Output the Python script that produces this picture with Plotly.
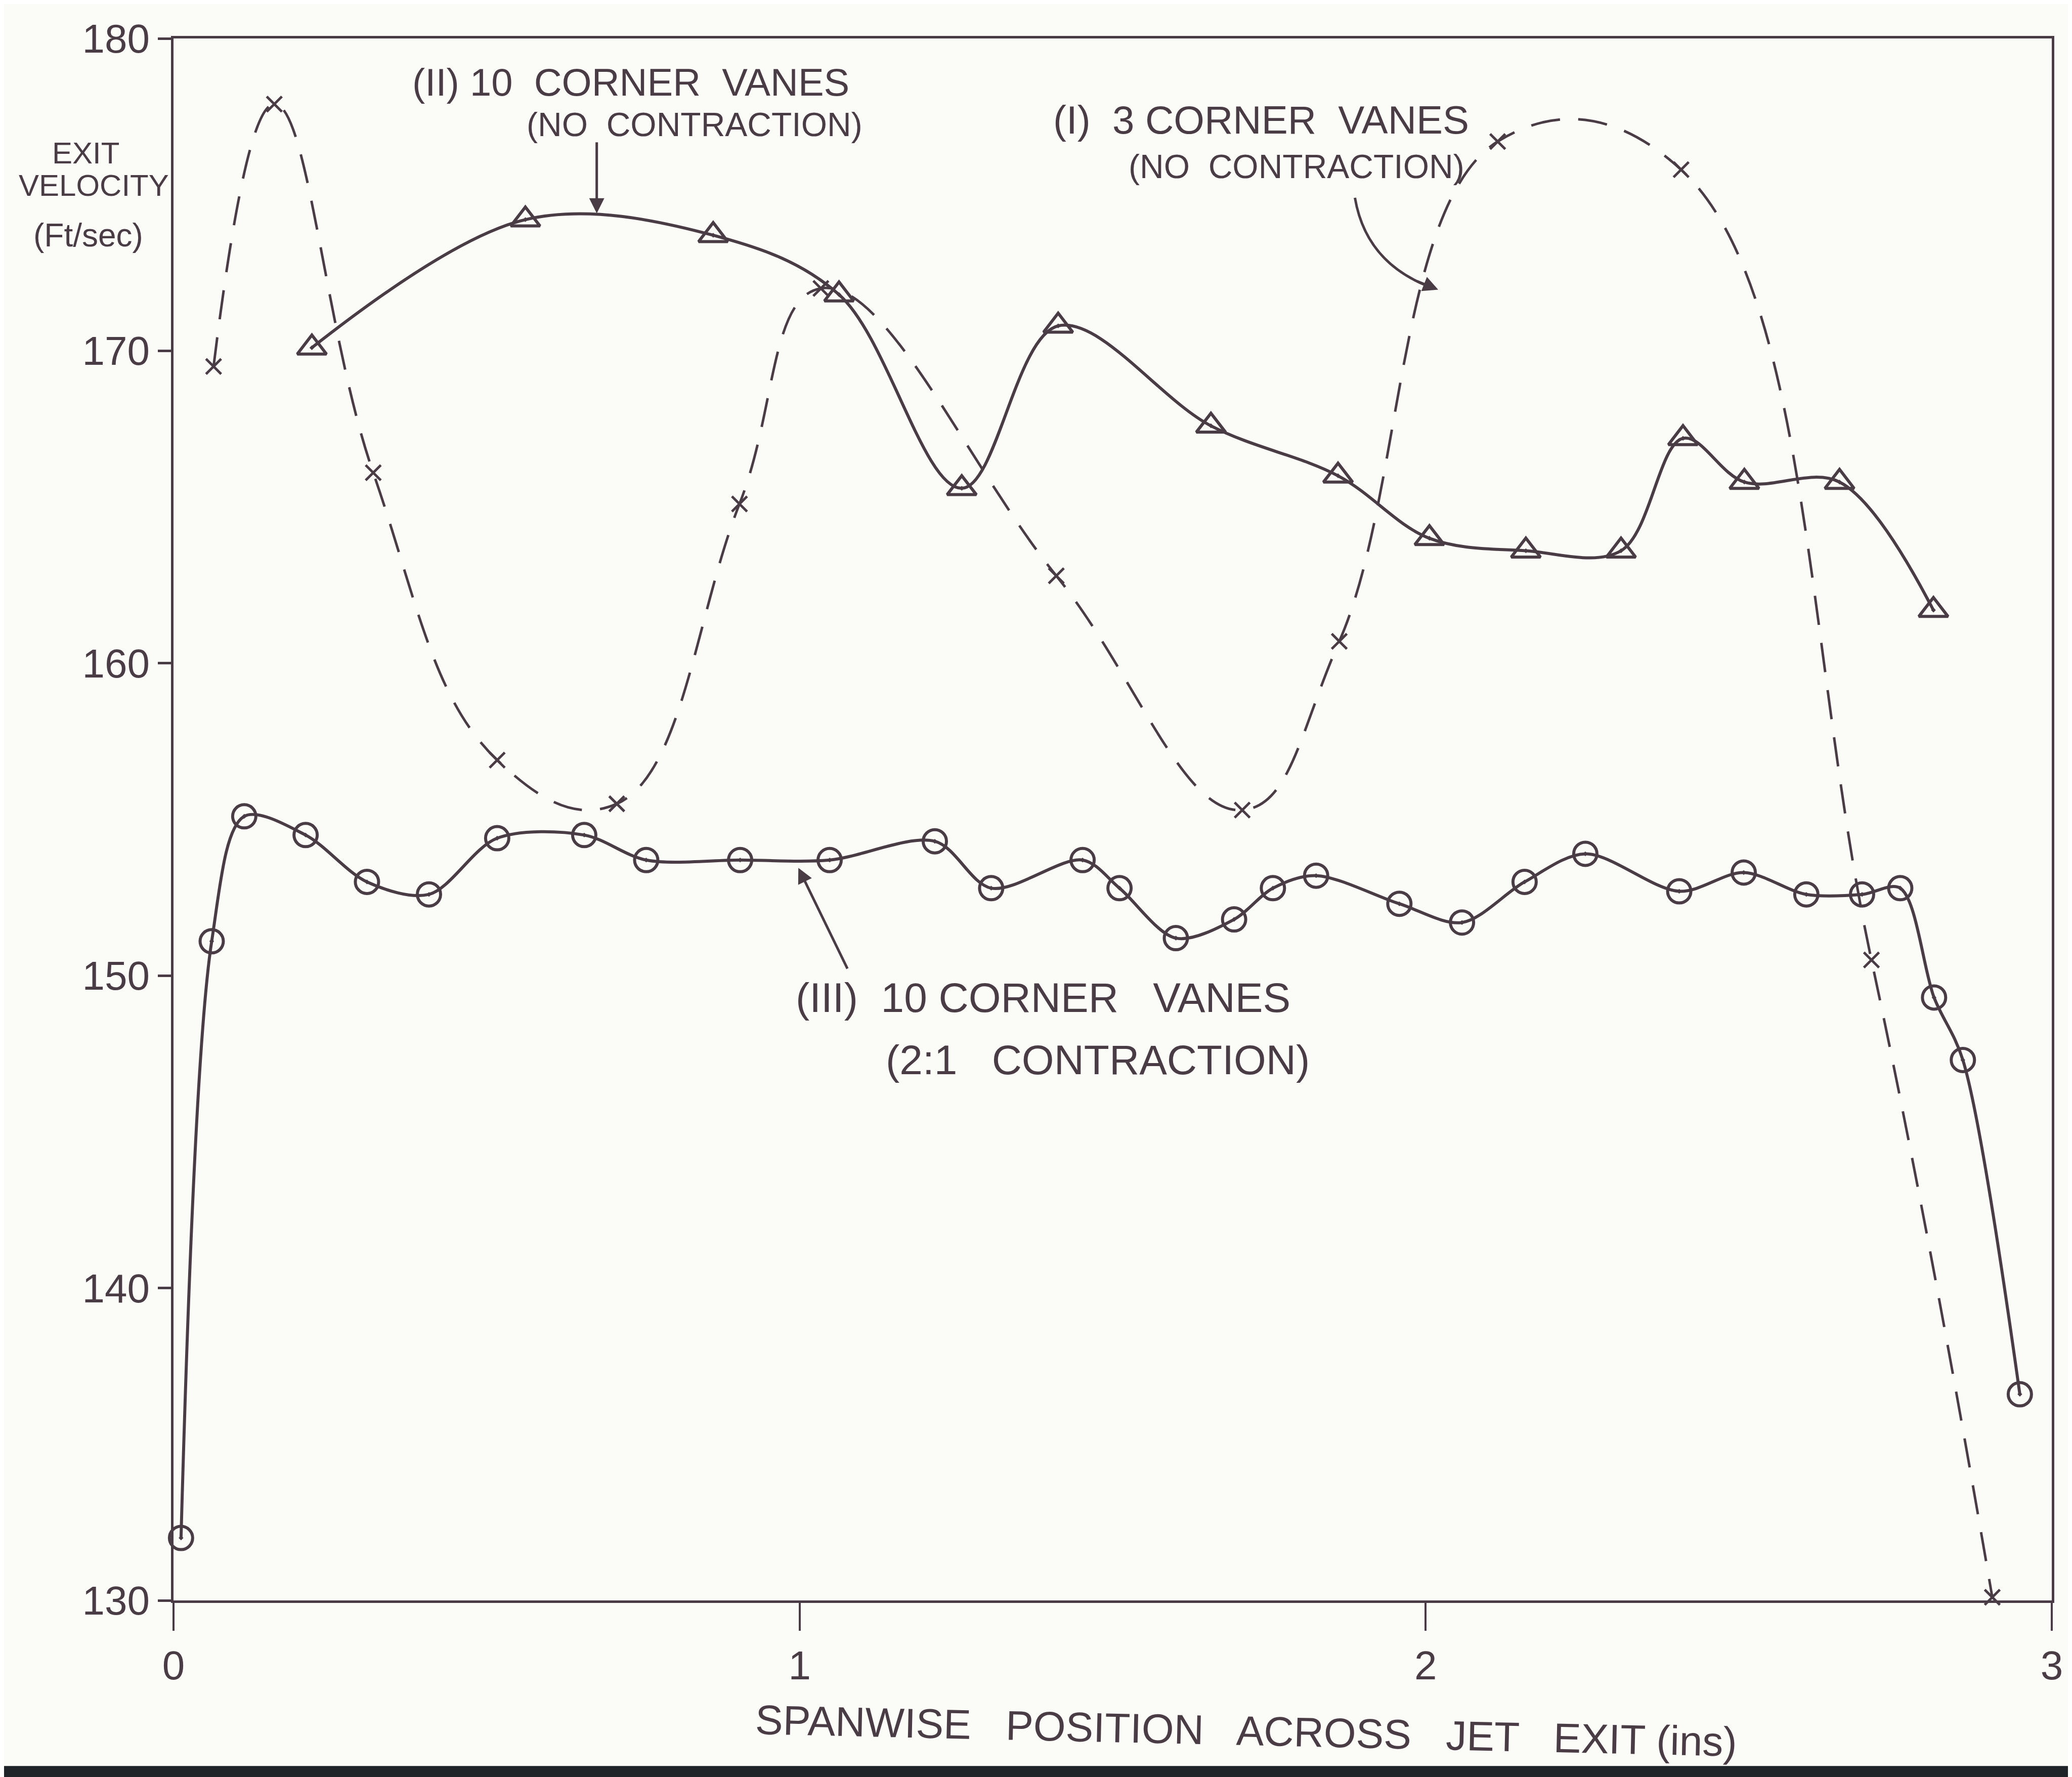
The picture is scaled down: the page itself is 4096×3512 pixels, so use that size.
import plotly.graph_objects as go

# ---------------- data ----------------
# (I) 3 corner vanes, no contraction  -- crosses, dashed
x_I = [0.064, 0.161, 0.319, 0.517, 0.708, 0.904, 1.034, 1.410, 1.707, 1.862, 2.115, 2.408, 2.712, 2.905]
y_I = [169.5, 177.9, 166.1, 156.9, 155.5, 165.1, 172.0, 162.8, 155.3, 160.7, 176.7, 175.8, 150.5, 130.1]

# (II) 10 corner vanes, no contraction -- triangles, solid
x_II = [0.221, 0.562, 0.862, 1.063, 1.259, 1.413, 1.657, 1.860, 2.006, 2.160, 2.312, 2.411, 2.509, 2.661, 2.811]
y_II = [170.1, 174.2, 173.7, 171.8, 165.6, 170.8, 167.6, 166.0, 164.0, 163.6, 163.6, 167.2, 165.8, 165.8, 161.7]

# (III) 10 corner vanes, 2:1 contraction -- circles, solid
x_III = [0.012, 0.061, 0.113, 0.211, 0.309, 0.408, 0.517, 0.656, 0.755, 0.905, 1.048, 1.216, 1.306,
         1.452, 1.511, 1.601, 1.694, 1.756, 1.825, 1.958, 2.058, 2.158, 2.255, 2.405, 2.508, 2.608,
         2.697, 2.758, 2.812, 2.858, 2.949]
y_III = [132.0, 151.1, 155.1, 154.5, 153.0, 152.6, 154.4, 154.5, 153.7, 153.7, 153.7, 154.3, 152.8,
         153.7, 152.8, 151.2, 151.8, 152.8, 153.2, 152.3, 151.7, 153.0, 153.9, 152.7, 153.3, 152.6,
         152.6, 152.8, 149.3, 147.3, 136.6]

x_ticks = [0, 1, 2, 3]
y_ticks = [130, 140, 150, 160, 170, 180]

INK = "#4a3c45"
BG = "#fbfbf8"
FONT = "Liberation Sans"

fig = go.Figure()

fig.add_trace(go.Scatter(
    x=x_I, y=y_I, mode="lines+markers",
    line=dict(color=INK, width=5, dash="58px,36px", shape="spline", smoothing=1.2),
    marker=dict(symbol="x-thin", size=30, line=dict(color=INK, width=5), color=INK),
    cliponaxis=False, hoverinfo="skip"))

fig.add_trace(go.Scatter(
    x=x_II, y=y_II, mode="lines+markers",
    line=dict(color=INK, width=6, shape="spline", smoothing=1.0),
    marker=dict(symbol="triangle-up-open-dot", size=50, line=dict(color=INK, width=6), color=INK),
    cliponaxis=False, hoverinfo="skip"))

fig.add_trace(go.Scatter(
    x=x_III, y=y_III, mode="lines+markers",
    line=dict(color=INK, width=6, shape="spline", smoothing=0.9),
    marker=dict(symbol="circle-open-dot", size=46, line=dict(color=INK, width=6), color=INK),
    cliponaxis=False, hoverinfo="skip"))

ann = []
def txt(x, y, s, size, angle=0):
    ann.append(dict(x=x, y=y, xref="x", yref="y", text=s, showarrow=False,
                    font=dict(family=FONT, size=size, color=INK), textangle=angle,
                    xanchor="center", yanchor="middle"))

def ptxt(x, y, s, size, angle=0):
    ann.append(dict(x=x, y=y, xref="paper", yref="paper", text=s, showarrow=False,
                    font=dict(family=FONT, size=size, color=INK), textangle=angle,
                    xanchor="center", yanchor="middle"))

def arrow(xt, yt, xa, ya):
    ann.append(dict(x=xt, y=yt, ax=xa, ay=ya, xref="x", yref="y", axref="x", ayref="y",
                    text="", showarrow=True, arrowhead=2, arrowsize=1.2, arrowwidth=5,
                    arrowcolor=INK, standoff=0, startstandoff=0))

# series labels
txt(0.730, 178.6, "(II) 10  CORNER  VANES", 76)
txt(0.832, 177.25, "(NO  CONTRACTION)", 66)
arrow(0.676, 174.4, 0.676, 176.7)

txt(1.737, 177.4, "(I)  3 CORNER  VANES", 78)
txt(1.794, 175.9, "(NO  CONTRACTION)", 66)
arrow(2.020, 171.96, 1.985, 172.24)

txt(1.389, 149.3, "(III)  10 CORNER   VANES", 82)
txt(1.476, 147.3, "(2:1   CONTRACTION)", 82)
arrow(0.998, 153.45, 1.077, 150.2)

# axis titles (hand-lettered, placed as text)
ptxt(-0.0466, 0.9265, "EXIT", 60)
ptxt(-0.0424, 0.906, "VELOCITY", 60)
ptxt(-0.0455, 0.874, "(Ft/sec)", 64)
ptxt(0.571, -0.0835, "SPANWISE   POSITION   ACROSS   JET   EXIT (ins)", 82, angle=1.3)

fig.update_layout(
    width=4096, height=3512,
    margin=dict(l=335, r=48, t=68, b=357),
    paper_bgcolor=BG, plot_bgcolor=BG,
    showlegend=False,
    annotations=ann,
    shapes=[
        dict(type="path", xref="x", yref="y",
             path="M 1.887,174.9 Q 1.904,172.9 2.0,172.1",
             line=dict(color=INK, width=5)),
        dict(type="rect", xref="paper", yref="paper", x0=-0.1, x1=1.05,
             y0=-0.125, y1=-0.106, fillcolor="#1f2428", line=dict(width=0), layer="above"),
    ],
)

fig.update_xaxes(
    range=[0, 3], tickvals=x_ticks, ticktext=[str(v) for v in x_ticks],
    showgrid=False, zeroline=False, showline=True, linecolor=INK, linewidth=5,
    mirror=True, ticks="outside", ticklen=55, tickwidth=4, tickcolor=INK,
    tickfont=dict(family=FONT, size=80, color=INK))

fig.update_yaxes(
    range=[130, 180], tickvals=y_ticks, ticktext=[str(v) for v in y_ticks],
    showgrid=False, zeroline=False, showline=True, linecolor=INK, linewidth=5,
    mirror=True, ticks="outside", ticklen=26, tickwidth=5, tickcolor=INK,
    tickfont=dict(family=FONT, size=80, color=INK))

fig.write_html("out.html")
